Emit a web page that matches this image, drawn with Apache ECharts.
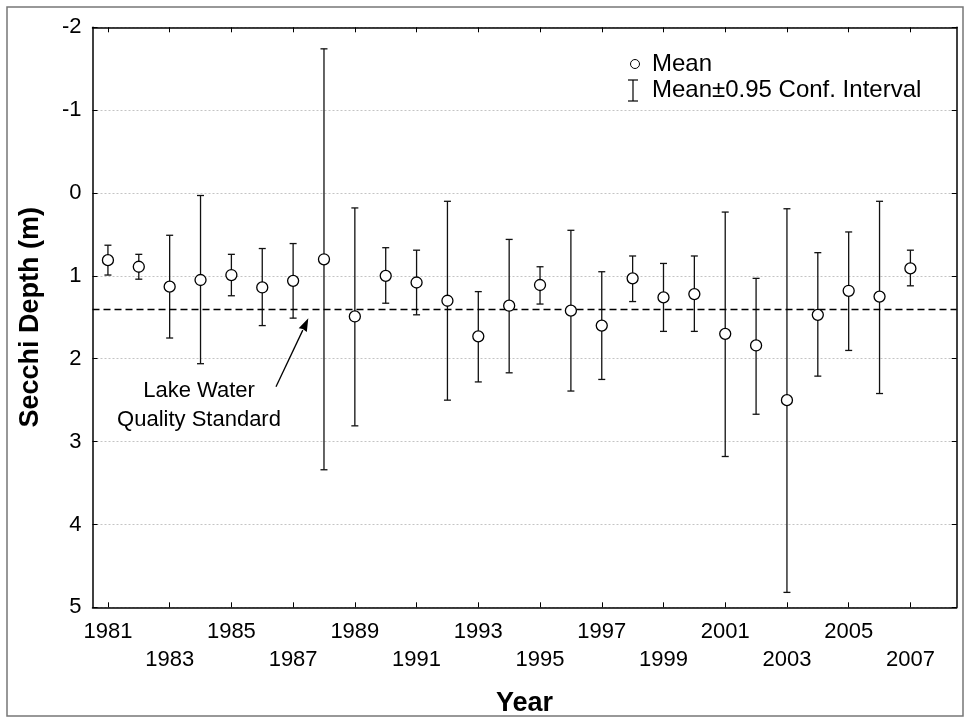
<!DOCTYPE html>
<html>
<head>
<meta charset="utf-8">
<script src="https://cdn.jsdelivr.net/npm/echarts@6/dist/echarts.min.js"></script>
<style>
html,body{margin:0;padding:0;background:#fff;}
#c{width:967px;height:723px;}
</style>
</head>
<body>
<div id="c"></div>
<script>
// ---- data ----
const years = [1981,1982,1983,1984,1985,1986,1987,1988,1989,1990,1991,1992,1993,1994,1995,1996,1997,1998,1999,2000,2001,2002,2003,2004,2005,2006,2007];
const means = [0.81,0.89,1.13,1.05,0.99,1.14,1.06,0.80,1.49,1.00,1.08,1.30,1.73,1.36,1.11,1.42,1.60,1.03,1.26,1.22,1.70,1.84,2.50,1.47,1.18,1.25,0.91];
const ciLow = [0.63,0.74,0.51,0.03,0.74,0.67,0.61,-1.74,0.18,0.66,0.69,0.10,1.19,0.56,0.89,0.45,0.95,0.76,0.85,0.76,0.23,1.03,0.19,0.72,0.47,0.10,0.69];
const ciHigh = [0.99,1.04,1.75,2.06,1.24,1.60,1.51,3.34,2.81,1.33,1.47,2.50,2.28,2.17,1.34,2.39,2.25,1.31,1.67,1.67,3.18,2.67,4.82,2.21,1.90,2.42,1.12];
const xTickYears = [1981,1983,1985,1987,1989,1991,1993,1995,1997,1999,2001,2003,2005,2007];
const yTicks = [-2,-1,0,1,2,3,4,5];
const STANDARD = 1.4;
const legendLabels = ['Mean', 'Mean\u00b10.95 Conf. Interval'];
const annotationText = 'Lake Water\nQuality Standard';

const FONT = 'Arial, "Liberation Sans", Helvetica, sans-serif';

const chart = echarts.init(document.getElementById('c'), null, {renderer:'canvas'});

const meanData = years.map((y,i)=>[y, means[i]]);
const ciData = years.map((y,i)=>[y, ciLow[i], ciHigh[i]]);

const option = {
  backgroundColor:'#ffffff',
  animation:false,
  grid:{left:92.5, right:10.3, top:27.3, bottom:115.7, outerBoundsMode:'none', containLabel:false},
  xAxis:[{
    type:'value', min:1980.5, max:2008.5, position:'bottom',
    name:'Year', nameLocation:'middle', nameGap:83, nameMoveOverlap:false,
    nameTextStyle:{fontFamily:FONT, fontSize:27, fontWeight:'bold', color:'#000'},
    axisLine:{show:true, onZero:false, lineStyle:{color:'#000', width:1.5}},
    axisTick:{show:true, inside:true, length:5, customValues:xTickYears, lineStyle:{color:'#000', width:1}},
    axisLabel:{show:true, customValues:xTickYears, margin:11, fontFamily:FONT, fontSize:22, color:'#000', lineHeight:28,
      formatter:function(v){ const y=Math.round(v); const k=xTickYears.indexOf(y); return (k%2===0)? String(y) : '\n'+y; }},
    splitLine:{show:false}
  },{
    type:'value', min:1980.5, max:2008.5, position:'top',
    axisLine:{show:true, onZero:false, lineStyle:{color:'#000', width:1.5}},
    axisTick:{show:true, inside:true, length:5, customValues:xTickYears, lineStyle:{color:'#000', width:1}},
    axisLabel:{show:false},
    splitLine:{show:false}
  }],
  yAxis:[{
    type:'value', min:-2, max:5, interval:1, inverse:true, position:'left',
    name:'Secchi Depth (m)', nameLocation:'middle', nameGap:48, nameMoveOverlap:false,
    nameTextStyle:{fontFamily:FONT, fontSize:27, fontWeight:'bold', color:'#000'},
    axisLine:{show:true, onZero:false, lineStyle:{color:'#000', width:1.5}},
    axisTick:{show:true, inside:true, length:5, lineStyle:{color:'#000', width:1}},
    axisLabel:{show:true, margin:11, fontFamily:FONT, fontSize:22, color:'#000',
      formatter:function(v){ return yTicks.indexOf(v)>=0 ? String(v) : ''; }},
    splitLine:{show:true, lineStyle:{color:'#c4c4c4', width:1, type:[2,2]}}
  },{
    type:'value', min:-2, max:5, interval:1, inverse:true, position:'right',
    axisLine:{show:true, onZero:false, lineStyle:{color:'#000', width:1.5}},
    axisTick:{show:true, inside:true, length:5, lineStyle:{color:'#000', width:1}},
    axisLabel:{show:false},
    splitLine:{show:false}
  }],
  series:[{
    type:'custom', name:'CI', xAxisIndex:0, yAxisIndex:0, z:2,
    data:ciData,
    encode:{x:0, y:[1,2]},
    renderItem:function(params, api){
      const x = api.value(0);
      const p1 = api.coord([x, api.value(1)]);
      const p2 = api.coord([x, api.value(2)]);
      const hw = 3.5;
      const st = {stroke:'#111', lineWidth:1.3};
      return {type:'group', children:[
        {type:'line', shape:{x1:p1[0], y1:p1[1], x2:p2[0], y2:p2[1]}, style:st},
        {type:'line', shape:{x1:p1[0]-hw, y1:p1[1], x2:p1[0]+hw, y2:p1[1]}, style:st},
        {type:'line', shape:{x1:p2[0]-hw, y1:p2[1], x2:p2[0]+hw, y2:p2[1]}, style:st}
      ]};
    },
    markLine:{silent:true, symbol:['none','none'], label:{show:false}, animation:false,
      lineStyle:{color:'#000', width:1.3, type:[7,4]},
      emphasis:{disabled:true},
      data:[{yAxis:STANDARD}]}
  },{
    type:'scatter', name:'Mean', xAxisIndex:0, yAxisIndex:0, z:5,
    data:meanData, symbol:'circle', symbolSize:11,
    itemStyle:{color:'#ffffff', borderColor:'#000', borderWidth:1.3, opacity:1},
    emphasis:{disabled:true}
  }],
  graphic:[
    {type:'rect', shape:{x:7, y:7, width:956, height:709}, style:{fill:'none', stroke:'#777', lineWidth:1.5}, z:-1, silent:true},
    // legend
    {type:'circle', shape:{cx:635, cy:64, r:4.5}, style:{fill:'#fff', stroke:'#000', lineWidth:1}, z:10},
    {type:'text', x:652, y:64, style:{text:legendLabels[0], font:'24px '+FONT, fill:'#000', verticalAlign:'middle', align:'left'}, z:10},
    {type:'line', shape:{x1:633, y1:80, x2:633, y2:101}, style:{stroke:'#000', lineWidth:1.2}, z:10},
    {type:'line', shape:{x1:628, y1:80, x2:638, y2:80}, style:{stroke:'#000', lineWidth:1.2}, z:10},
    {type:'line', shape:{x1:628, y1:101, x2:638, y2:101}, style:{stroke:'#000', lineWidth:1.2}, z:10},
    {type:'text', x:652, y:90, style:{text:legendLabels[1], font:'24px '+FONT, fill:'#000', verticalAlign:'middle', align:'left'}, z:10},
    // annotation
    {type:'text', x:199, y:405, style:{text:annotationText, font:'22px '+FONT, fill:'#000', align:'center', verticalAlign:'middle', lineHeight:29}, z:10},
    {type:'line', shape:{x1:276, y1:386.7, x2:302.8, y2:330.1}, style:{stroke:'#000', lineWidth:1.3}, z:10},
    {type:'polygon', shape:{points:[[308.3,318.3],[306.8,332.0],[302.8,329.0],[298.7,328.2]]}, style:{fill:'#000'}, z:10}
  ]
};
chart.setOption(option);
</script>
</body>
</html>
